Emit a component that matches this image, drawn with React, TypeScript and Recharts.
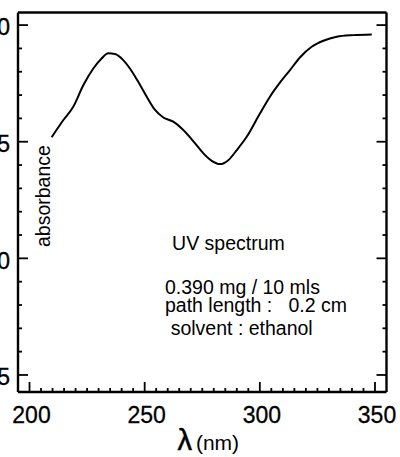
import React from 'react';
import { LineChart, Line, XAxis, YAxis, ReferenceDot } from 'recharts';

// Data (wavelength in nm, absorbance in arbitrary plot units)
const wavelengths = [209.6, 214.7, 219.0, 223.4, 227.7, 231.3, 234.2, 237.1, 240.7, 243.6, 247.2, 250.9, 254.5, 258.1, 262.4, 266.1, 269.7, 271.9, 275.5, 279.1, 282.7, 286.3, 290.0, 294.3, 300.1, 304.4, 308.8, 313.1, 317.4, 322.5, 327.6, 333.4, 340.6, 348.6];
const absorbance = [1.519, 1.593, 1.650, 1.743, 1.814, 1.857, 1.879, 1.876, 1.850, 1.814, 1.757, 1.693, 1.636, 1.604, 1.586, 1.557, 1.519, 1.493, 1.450, 1.418, 1.404, 1.421, 1.464, 1.521, 1.622, 1.693, 1.754, 1.807, 1.861, 1.907, 1.933, 1.950, 1.957, 1.960];

const xDomain = [195, 355];
const yDomain = [0.427, 2.054];

const xMajorTicks = [200, 250, 300, 350];
const xMinorTicks = [205, 210, 215, 220, 225, 230, 235, 240, 245, 255, 260, 265, 270, 275, 280, 285, 290, 295, 305, 310, 315, 320, 325, 330, 335, 340, 345];
const yMajorTicks = [0.5, 1.0, 1.5, 2.0];
const yMinorTicks = [0.6, 0.7, 0.8, 0.9, 1.1, 1.2, 1.3, 1.4, 1.6, 1.7, 1.8, 1.9];

const xAxisTitleSymbol = 'λ';
const xAxisTitleUnit = '(nm)';
const yAxisTitle = 'absorbance';
const yAxisTitlePos = { x: 208.9, y: 1.0485 };

const notes = [
  { text: 'UV spectrum', x: 261.9, y: 1.036 },
  { text: '0.390 mg / 10 mls', x: 258.8, y: 0.847 },
  { text: 'path length :   0.2 cm', x: 258.8, y: 0.77 },
  { text: 'solvent : ethanol', x: 261.3, y: 0.671 },
];

const chartData = wavelengths.map((w, i) => ({ w, a: absorbance[i] }));
const xAllTicks = [...xMajorTicks, ...xMinorTicks].sort((a, b) => a - b);
const yAllTicks = [...yMajorTicks, ...yMinorTicks].sort((a, b) => a - b);

const FONT = '"Liberation Sans", Arial, Helvetica, sans-serif';
const MAJOR_LEN = 10;
const MINOR_LEN = 4;
const INK = '#000';

function isIn(list: number[], v: number) {
  return list.some((m) => Math.abs(m - v) < 1e-6);
}

function makeTick(side: 'bottom' | 'top' | 'left' | 'right', majors: number[], showLabels: boolean) {
  return (props: any) => {
    const { x, y, payload } = props;
    const v = payload.value as number;
    const major = isIn(majors, v);
    const len = major ? MAJOR_LEN : MINOR_LEN;
    let line: any = null;
    let label: any = null;
    if (side === 'bottom') {
      line = <line x1={x} y1={y} x2={x} y2={y - len} stroke={INK} strokeWidth={1.8} />;
      if (showLabels && major) {
        label = (
          <text x={x + 2} y={y + 31} textAnchor="middle" fontFamily={FONT} fontSize={23} fill={INK} stroke={INK} strokeWidth={0.3}>
            {String(v)}
          </text>
        );
      }
    } else if (side === 'top') {
      line = <line x1={x} y1={y} x2={x} y2={y + len} stroke={INK} strokeWidth={1.8} />;
    } else if (side === 'left') {
      line = <line x1={x} y1={y} x2={x + len} y2={y} stroke={INK} strokeWidth={1.8} />;
      if (showLabels && major) {
        label = (
          <text x={x - 8} y={y + 2} dy="0.36em" textAnchor="end" fontFamily={FONT} fontSize={23} fill={INK} stroke={INK} strokeWidth={0.3}>
            {v.toFixed(1)}
          </text>
        );
      }
    } else {
      line = <line x1={x} y1={y} x2={x - len} y2={y} stroke={INK} strokeWidth={1.8} />;
    }
    return (
      <g>
        {line}
        {label}
      </g>
    );
  };
}

const XTitle = (props: any) => {
  const vb = props.viewBox || { x: 0, y: 0, width: 0, height: 0 };
  const cx = vb.x + vb.width / 2 + 6;
  const by = vb.y + 58;
  return (
    <text x={cx} y={by} textAnchor="middle" fontFamily={FONT} fill={INK}>
      <tspan fontSize={29} stroke={INK} strokeWidth={0.5}>{xAxisTitleSymbol}</tspan>
      <tspan fontSize={21} dx={4}>{xAxisTitleUnit}</tspan>
    </text>
  );
};

const NoteLabel = (text: string, rotate?: boolean) => (props: any) => {
  const vb = props.viewBox || { x: 0, y: 0 };
  const x = vb.x;
  const y = vb.y;
  return (
    <text
      x={x}
      y={y}
      textAnchor="start"
      fontFamily={FONT}
      fontSize={19.5}
      fill={INK}
      style={{ whiteSpace: 'pre' }}
      transform={rotate ? `rotate(-90 ${x} ${y})` : undefined}
    >
      {text}
    </text>
  );
};

export default function App() {
  return (
    <div
      style={{
        position: 'absolute',
        left: 0,
        top: 0,
        width: 400,
        height: 457,
        overflow: 'hidden',
        background: '#fff',
      }}
    >
      <div style={{ position: 'absolute', left: -60, top: 0 }}>
        <LineChart
          width={460}
          height={457}
          data={chartData}
          margin={{ top: 11.5, right: 12.5, bottom: 0, left: 0 }}
        >
          <XAxis
            xAxisId={0}
            dataKey="w"
            type="number"
            domain={xDomain}
            allowDataOverflow
            ticks={xAllTicks}
            interval={0}
            tickSize={0}
            tickMargin={0}
            tickLine={false}
            tick={makeTick('bottom', xMajorTicks, true)}
            axisLine={{ stroke: INK, strokeWidth: 2.4 }}
            height={65}
            label={<XTitle />}
          />
          <XAxis
            xAxisId="top"
            orientation="top"
            type="number"
            domain={xDomain}
            allowDataOverflow
            ticks={xAllTicks}
            interval={0}
            tickSize={0}
            tickMargin={0}
            tickLine={false}
            tick={makeTick('top', xMajorTicks, false)}
            axisLine={{ stroke: INK, strokeWidth: 2.4 }}
            height={1}
          />
          <YAxis
            yAxisId={0}
            type="number"
            domain={yDomain}
            allowDataOverflow
            ticks={yAllTicks}
            interval={0}
            tickSize={0}
            tickMargin={0}
            tickLine={false}
            tick={makeTick('left', yMajorTicks, true)}
            axisLine={{ stroke: INK, strokeWidth: 2.4 }}
            width={78}
          />
          <YAxis
            yAxisId="right"
            orientation="right"
            type="number"
            domain={yDomain}
            allowDataOverflow
            ticks={yAllTicks}
            interval={0}
            tickSize={0}
            tickMargin={0}
            tickLine={false}
            tick={makeTick('right', yMajorTicks, false)}
            axisLine={{ stroke: INK, strokeWidth: 2.4 }}
            width={1}
          />
          <Line
            type="monotone"
            dataKey="a"
            stroke={INK}
            strokeWidth={2}
            dot={false}
            isAnimationActive={false}
          />
          <ReferenceDot
            x={yAxisTitlePos.x}
            y={yAxisTitlePos.y}
            r={0}
            fill="none"
            stroke="none"
            label={NoteLabel(yAxisTitle, true)}
          />
          {notes.map((n) => (
            <ReferenceDot
              key={n.text}
              x={n.x}
              y={n.y}
              r={0}
              fill="none"
              stroke="none"
              label={NoteLabel(n.text)}
            />
          ))}
        </LineChart>
      </div>
    </div>
  );
}
